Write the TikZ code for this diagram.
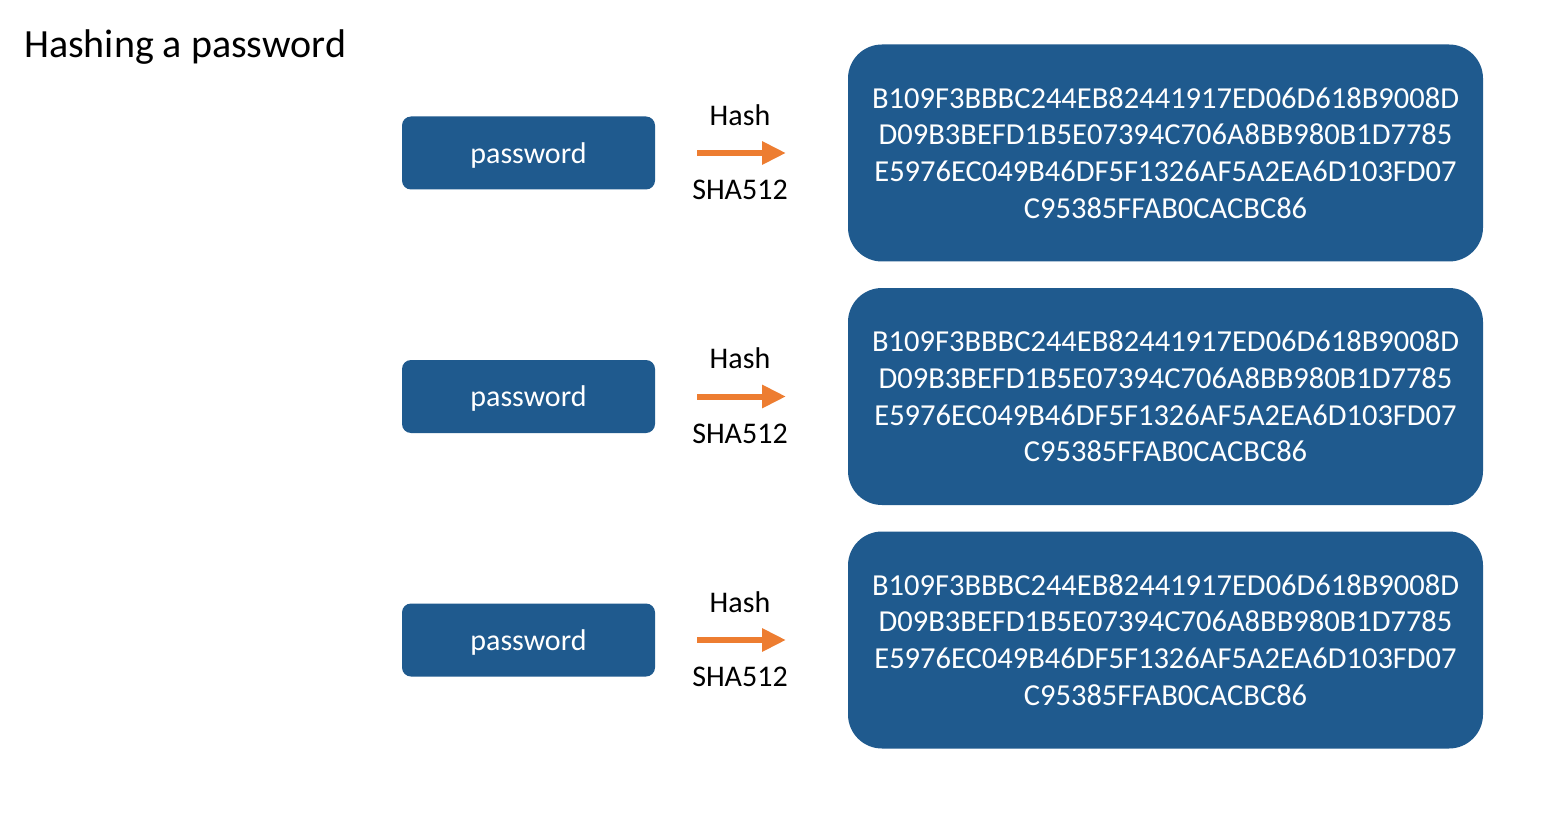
\documentclass[tikz,border=0pt]{standalone}
\usepackage{fontspec}
\setmainfont{Carlito}
\usetikzlibrary{arrows.meta}
\definecolor{boxblue}{RGB}{31,90,142}
\definecolor{arroworange}{RGB}{237,125,49}
\tikzset{
  pwbox/.style={fill=boxblue, rounded corners=9pt, minimum width=253pt, minimum height=73pt, text=white, font=\fontsize{30}{36}\selectfont, inner sep=0pt},
  hexbox/.style={fill=boxblue, rounded corners=34pt, minimum width=635pt, minimum height=217pt, text=white, align=center, font=\fontsize{30.5}{36.7}\selectfont, inner sep=0pt},
  lbl/.style={font=\fontsize{30}{36}\selectfont, text=black, inner sep=0pt},
  harrow/.style={draw=arroworange, line width=6pt, -{Triangle[length=24pt,width=22pt]}}
}
\begin{document}
\begin{tikzpicture}[x=1pt,y=-1pt]
\fill[white] (0,0) rectangle (1549,834);
\useasboundingbox (0,0) rectangle (1549,834);
\node[anchor=west, font=\fontsize{40}{48}\selectfont, inner sep=0pt] (title) at (24,47) {Hashing a password};
\foreach \i/\y in {1/153,2/396.5,3/640}{
  \node[pwbox, text depth=-2pt] (pw\i) at (528.5,\y) {password};
  \node[hexbox] (hex\i) at (1165.5,\y) {B109F3BBBC244EB82441917ED06D618B9008D\\D09B3BEFD1B5E07394C706A8BB980B1D7785\\E5976EC049B46DF5F1326AF5A2EA6D103FD07\\C95385FFAB0CACBC86};
  \coordinate (a\i) at (697,\y);
  \coordinate (b\i) at (786,\y);
  \draw[harrow] (a\i) -- (b\i);
  \node[lbl] (hash\i) at (740,\y-38) {Hash};
  \node[lbl] (sha\i) at (740,\y+37) {SHA512};
}
\end{tikzpicture}
\end{document}
